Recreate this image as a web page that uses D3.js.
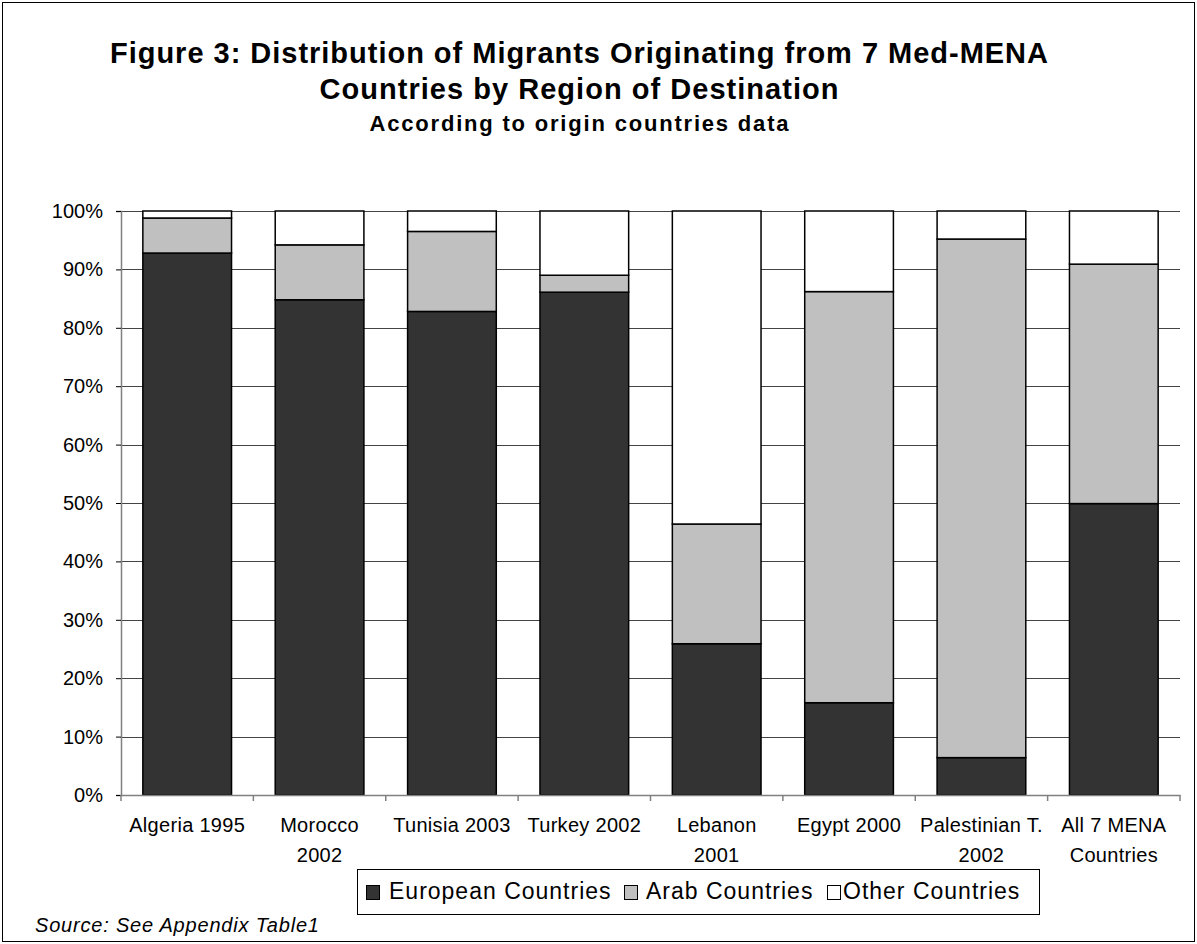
<!DOCTYPE html>
<html>
<head>
<meta charset="utf-8">
<script src="https://cdn.jsdelivr.net/npm/d3@7"></script>
<style>
  html, body { margin: 0; padding: 0; background: #fff; }
  svg { display: block; font-family: "Liberation Sans", Arial, sans-serif; }
</style>
</head>
<body>
<script>
// ---- data ----
const categories = ["Algeria 1995", "Morocco 2002", "Tunisia 2003", "Turkey 2002",
                    "Lebanon 2001", "Egypt 2000", "Palestinian T. 2002", "All 7 MENA Countries"];
const tickLabels = [["Algeria 1995"], ["Morocco", "2002"], ["Tunisia 2003"], ["Turkey 2002"],
                    ["Lebanon", "2001"], ["Egypt 2000"], ["Palestinian T.", "2002"], ["All 7 MENA", "Countries"]];
const seriesNames = ["European Countries", "Arab Countries", "Other Countries"];
const european = [92.8, 84.8, 82.8, 86.1, 25.9, 15.8, 6.4, 49.9];
const arab     = [6.0, 9.4, 13.7, 2.9, 20.5, 70.4, 88.8, 41.0];
const other    = [1.2, 5.8, 3.5, 11.0, 53.6, 13.8, 4.8, 9.1];
const yTicks = [0, 0.1, 0.2, 0.3, 0.4, 0.5, 0.6, 0.7, 0.8, 0.9, 1.0];
const titleLines = ["Figure 3: Distribution of Migrants Originating from 7 Med-MENA",
                    "Countries by Region of Destination"];
const subtitle = "According to origin countries data";
const sourceNote = "Source: See Appendix Table1";

// ---- layout ----
const W = 1197, H = 944;
const colors = ["#333333", "#c0c0c0", "#ffffff"];

const svg = d3.select("body").append("svg").attr("width", W).attr("height", H);

// outer frame
svg.append("rect").attr("x", 2.5).attr("y", 2.5).attr("width", W - 5).attr("height", H - 5)
  .attr("fill", "#fff").attr("stroke", "#000").attr("stroke-width", 1);

// titles
const titleX = 579;
svg.append("text").attr("x", titleX).attr("y", 63).attr("text-anchor", "middle")
  .attr("font-size", 29).attr("font-weight", "bold")
  .attr("textLength", 938).attr("lengthAdjust", "spacing").text(titleLines[0]);
svg.append("text").attr("x", titleX).attr("y", 99).attr("text-anchor", "middle")
  .attr("font-size", 29).attr("font-weight", "bold")
  .attr("textLength", 519).attr("lengthAdjust", "spacing").text(titleLines[1]);
svg.append("text").attr("x", titleX).attr("y", 131).attr("text-anchor", "middle")
  .attr("font-size", 22).attr("font-weight", "bold")
  .attr("textLength", 419).attr("lengthAdjust", "spacing").text(subtitle);

// scales
const x = d3.scaleBand().domain(categories).range([121, 1180]).paddingInner(0.33).paddingOuter(0.165);
const y = d3.scaleLinear().domain([0, 1]).range([795, 211]);

// gridlines
svg.append("g").selectAll("line").data(yTicks.filter(d => d > 0)).join("line")
  .attr("x1", 121).attr("x2", 1180)
  .attr("y1", d => Math.round(y(d)) + 0.5).attr("y2", d => Math.round(y(d)) + 0.5)
  .attr("stroke", "#444").attr("stroke-width", 1);

// stacked data
const rows = categories.map((c, i) => ({
  cat: c,
  "European Countries": european[i] / 100,
  "Arab Countries": arab[i] / 100,
  "Other Countries": other[i] / 100
}));
const stack = d3.stack().keys(seriesNames)(rows);

svg.append("g").selectAll("g").data(stack).join("g")
  .attr("fill", (d, i) => colors[i])
  .selectAll("rect").data(d => d).join("rect")
  .attr("x", d => x(d.data.cat))
  .attr("width", x.bandwidth())
  .attr("y", d => y(d[1]))
  .attr("height", d => y(d[0]) - y(d[1]))
  .attr("stroke", "#000").attr("stroke-width", 1.5);

// y axis
const yAxis = svg.append("g").attr("transform", "translate(121,0)")
  .call(d3.axisLeft(y).tickValues(yTicks).tickFormat(d3.format(".0%")).tickSize(5).tickPadding(13));
yAxis.select(".domain").attr("stroke", "#808080").attr("stroke-width", 1.5);
yAxis.selectAll(".tick line").attr("stroke", "#000");
yAxis.selectAll("text").attr("font-size", 20).attr("fill", "#000")
  .attr("font-family", "Liberation Sans, Arial, sans-serif");

// x axis
const xAxis = svg.append("g").attr("transform", "translate(0,795)")
  .call(d3.axisBottom(x).tickSize(0).tickPadding(0).tickFormat(() => ""));
xAxis.select(".domain").attr("stroke", "#808080").attr("stroke-width", 1.5);
xAxis.selectAll(".tick text").remove();
// category boundary ticks
const bounds = categories.map(c => x(c) - x.step() * x.paddingInner() / 2).concat([1180]);
svg.append("g").selectAll("line").data(bounds).join("line")
  .attr("x1", d => d).attr("x2", d => d).attr("y1", 795).attr("y2", 801)
  .attr("stroke", "#808080").attr("stroke-width", 1.5);
// labels
const lbl = svg.append("g").selectAll("text").data(categories).join("text")
  .attr("x", d => x(d) + x.bandwidth() / 2)
  .attr("y", 832)
  .attr("text-anchor", "middle").attr("font-size", 20).attr("letter-spacing", 0.3);
lbl.selectAll("tspan").data((d, i) => tickLabels[i]).join("tspan")
  .attr("x", function () { return d3.select(this.parentNode).attr("x"); })
  .attr("dy", (d, j) => j === 0 ? 0 : 30)
  .text(d => d);

// legend
svg.append("rect").attr("x", 357.5).attr("y", 869.5).attr("width", 682).attr("height", 45)
  .attr("fill", "#fff").attr("stroke", "#000").attr("stroke-width", 1);
const swatchX = [366, 624, 827];
const textX = [389, 646, 843];
const lg = svg.append("g").selectAll("g").data(seriesNames).join("g");
lg.append("rect").attr("x", (d, i) => swatchX[i] + 0.5).attr("y", 885.5)
  .attr("width", 13).attr("height", 14)
  .attr("fill", (d, i) => colors[i]).attr("stroke", "#000").attr("stroke-width", 1);
lg.append("text").attr("x", (d, i) => textX[i]).attr("y", 899)
  .attr("font-size", 23).attr("letter-spacing", 1).text(d => d);

// source note
svg.append("text").attr("x", 35).attr("y", 932)
  .attr("font-size", 20).attr("font-style", "italic").attr("letter-spacing", 0.8)
  .text(sourceNote);
</script>
</body>
</html>
